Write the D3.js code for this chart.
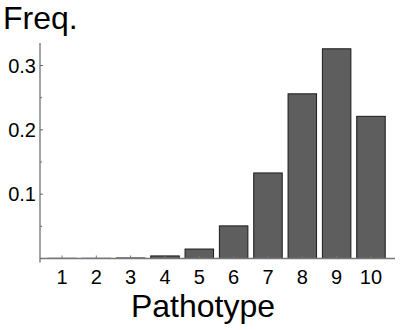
<!DOCTYPE html>
<html>
<head>
<meta charset="utf-8">
<script src="https://cdn.jsdelivr.net/npm/d3@7"></script>
<style>
	body { margin: 0; background: #fff; }
	text { font-family: "Liberation Sans", Arial, sans-serif; fill: #000; }
</style>
</head>
<body>
<div id="chart"></div>
<script>
"use strict";

//  Data
const pathotypes = [1, 2, 3, 4, 5, 6, 7, 8, 9, 10];
const freqs = [0.0003, 0.0003, 0.0008, 0.004, 0.0147, 0.0507, 0.133, 0.256, 0.326, 0.221];
const yMajorTicks = [0.1, 0.2, 0.3];
const yMinorTicks = [0.05, 0.15, 0.25];

const width = 400, height = 330;

let svg = d3.select('#chart').append('svg')
	.attr('width', width)
	.attr('height', height);

let x = d3.scaleLinear().domain([0.36, 10.7]).range([40, 395]);
let y = d3.scaleLinear().domain([0, 0.335]).range([258.5, 43]);
const barWidth = x(1.83) - x(1);

//  Bars
svg.selectAll('.bar')
	.data(pathotypes)
	.join('rect')
		.classed('bar', true)
		.attr('x', (p) => x(p) - barWidth / 2)
		.attr('y', (p, i) => y(freqs[i]))
		.attr('width', barWidth)
		.attr('height', (p, i) => y(0) - y(freqs[i]))
		.attr('fill', '#5e5e5e')
		.attr('stroke', '#1a1a1a')
		.attr('stroke-width', 1);

//  Axes (ticks point inward, Mathematica style)
svg.append('line')
	.attr('x1', x.range()[0]).attr('x2', x.range()[1])
	.attr('y1', y(0)).attr('y2', y(0))
	.attr('stroke', '#777').attr('stroke-width', 1.5);

svg.append('line')
	.attr('x1', x.range()[0]).attr('x2', x.range()[0])
	.attr('y1', y(0) + 4).attr('y2', y.range()[1])
	.attr('stroke', '#666').attr('stroke-width', 1.2);

svg.selectAll('.xtick')
	.data(pathotypes)
	.join('line')
		.classed('xtick', true)
		.attr('x1', (p) => x(p)).attr('x2', (p) => x(p))
		.attr('y1', y(0)).attr('y2', y(0) - 3)
		.attr('stroke', '#777');

svg.selectAll('.xlabel')
	.data(pathotypes)
	.join('text')
		.classed('xlabel', true)
		.attr('x', (p) => x(p))
		.attr('y', 284)
		.attr('text-anchor', 'middle')
		.attr('font-size', 20)
		.text((p) => p);

svg.selectAll('.ytick')
	.data(yMajorTicks.concat(yMinorTicks))
	.join('line')
		.classed('ytick', true)
		.attr('x1', x.range()[0]).attr('x2', (v) => x.range()[0] + (yMajorTicks.includes(v) ? 3 : 2))
		.attr('y1', (v) => y(v)).attr('y2', (v) => y(v))
		.attr('stroke', '#666');

svg.selectAll('.ylabel')
	.data(yMajorTicks)
	.join('text')
		.classed('ylabel', true)
		.attr('x', 36)
		.attr('y', (v) => y(v))
		.attr('dy', '0.36em')
		.attr('text-anchor', 'end')
		.attr('font-size', 20)
		.text((v) => d3.format('.1f')(v));

//  Titles
svg.append('text')
	.attr('x', 3)
	.attr('y', 29)
	.attr('font-size', 32)
	.text('Freq.');

svg.append('text')
	.attr('x', 203)
	.attr('y', 317)
	.attr('text-anchor', 'middle')
	.attr('font-size', 32)
	.text('Pathotype');
</script>
</body>
</html>
